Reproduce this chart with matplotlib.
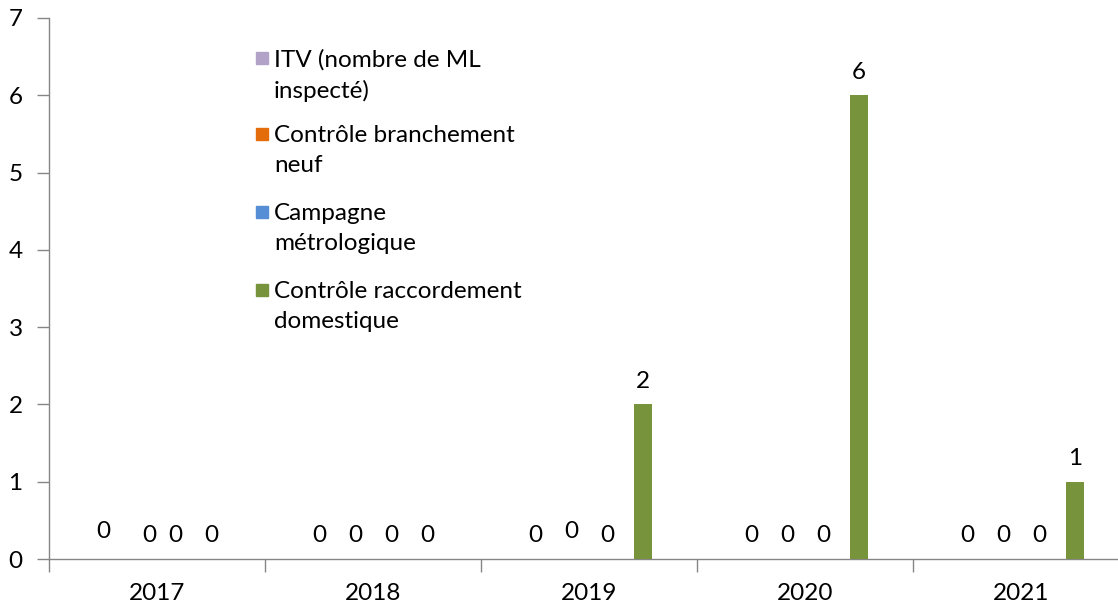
import matplotlib
matplotlib.use("Agg")
import matplotlib.pyplot as plt
import numpy as np
from matplotlib.patches import Rectangle

years = ["2017", "2018", "2019", "2020", "2021"]
series_names = ["ITV (nombre de ML\ninspecté)", "Contrôle branchement\nneuf",
                "Campagne\nmétrologique", "Contrôle raccordement\ndomestique"]
itv = [0, 0, 0, 0, 0]
branchement = [0, 0, 0, 0, 0]
campagne = [0, 0, 0, 0, 0]
raccordement = [0, 0, 2, 6, 1]

colors = ["#B3A2C7", "#E46C0A", "#558ED5", "#77933C"]
FONT = "Lato"
plt.rcParams['font.family'] = [FONT, 'DejaVu Sans']
FS = 17.5

W, H = 1118, 607
fig = plt.figure(figsize=(W / 100, H / 100), dpi=100)
ax = fig.add_axes([49 / W, 1 - 559 / H, (1129 - 49) / W, (559 - 18) / H])

data = [itv, branchement, campagne, raccordement]
x = np.arange(len(years))
slot = 36 / 216
bw = 18 / 216
offsets = [-1.5, -0.5, 0.5, 1.5]
# small label nudges (x in slot units, y in points) as in the original
nudge = {(1, 0): (0.3, 0), (0, 0): (0, 3), (1, 2): (0, 3)}
for i, (vals, c) in enumerate(zip(data, colors)):
    xs = x + offsets[i] * slot
    ax.bar(xs, vals, width=bw, color=c, zorder=3)
    for j, (xv, v) in enumerate(zip(xs, vals)):
        dx, dy = nudge.get((i, j), (0, 0))
        ax.annotate(str(v), (xv + dx * slot, v), xytext=(0, 9 + dy), textcoords="offset points",
                    ha="center", va="bottom", fontsize=FS, color="#000000")

ax.set_xlim(-0.5, 4.5)
ax.set_ylim(0, 7)
ax.set_yticks(range(0, 8))
ax.tick_params(axis="y", length=9, width=1, color="#868686", labelsize=FS, pad=10)
ax.set_xticks(x)
ax.set_xticklabels(years, fontsize=FS)
ax.tick_params(axis="x", length=0, pad=17)
ax.set_xticks(np.arange(-0.5, 5.0, 1.0), minor=True)
ax.tick_params(axis="x", which="minor", length=9, width=1, color="#868686", direction="out")
for s in ["top", "right"]:
    ax.spines[s].set_visible(False)
for s in ["left", "bottom"]:
    ax.spines[s].set_color("#868686")
    ax.spines[s].set_linewidth(1)

# legend
ys = [60, 136, 214, 292]
for name, c, y in zip(series_names, colors, ys):
    fig.add_artist(Rectangle((256 / W, 1 - (y + 4) / H), 12 / W, 12 / H,
                             transform=fig.transFigure, color=c))
    fig.text(274 / W, 1 - (y - 11) / H, name, fontsize=FS, va="top", ha="left",
             linespacing=1.52, color="#000000")

fig.savefig("out.png", dpi=100)
